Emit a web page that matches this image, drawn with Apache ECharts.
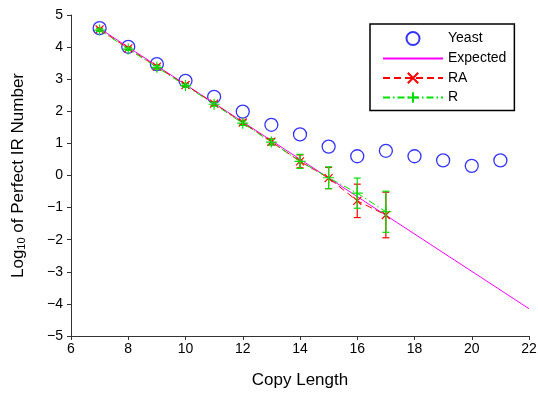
<!DOCTYPE html>
<html>
<head>
<meta charset="utf-8">
<script src="https://cdn.jsdelivr.net/npm/echarts@6/dist/echarts.min.js"></script>
<style>
  html, body { margin: 0; padding: 0; background: #fff; }
  #chart { width: 538px; height: 393px; }
</style>
</head>
<body>
<div id="chart"></div>
<script>
// Copy length on the x axis
const copyLengths = [7, 8, 9, 10, 11, 12, 13, 14, 15, 16, 17, 18, 19, 20, 21];
// Observed log10 counts of perfect inverted repeats in yeast
const yeastValues = [4.59, 4.01, 3.47, 2.95, 2.45, 1.99, 1.58, 1.28, 0.90, 0.60, 0.77, 0.60, 0.47, 0.30, 0.47];

// Expected line end points
const expectedX = [7, 22];
const expectedY = [4.58, -4.15];

// Randomised genomes: RA and R, with standard deviation
const simLengths = [7, 8, 9, 10, 11, 12, 13, 14, 15, 16, 17];
const raValues = [4.55, 3.96, 3.39, 2.82, 2.24, 1.65, 1.05, 0.44, -0.08, -0.79, -1.23];
const raErrors = [0.04, 0.04, 0.05, 0.05, 0.06, 0.07, 0.09, 0.20, 0.33, 0.52, 0.71];
const rValues = [4.53, 3.94, 3.37, 2.80, 2.22, 1.63, 1.04, 0.44, -0.07, -0.55, -1.13];
const rErrors = [0.04, 0.04, 0.05, 0.05, 0.06, 0.07, 0.09, 0.22, 0.34, 0.47, 0.64];

// Axis ticks
const xTicks = { min: 6, max: 22, interval: 2 };
const yTicks = { min: -5, max: 5, interval: 1 };

const FONT = '"Liberation Sans", Arial, Helvetica, sans-serif';
const pairs = (xs, ys) => xs.map((x, i) => [x, ys[i]]);
const triples = (xs, ys, es) => xs.map((x, i) => [x, ys[i], es[i]]);
const minus = v => String(v).replace('-', '\u2212');

function errorBars(color) {
  return function (params, api) {
    const x = api.value(0), y = api.value(1), e = api.value(2);
    const top = api.coord([x, y + e]);
    const bot = api.coord([x, y - e]);
    const half = 3.5;
    const style = { stroke: color, lineWidth: 1.2 };
    return {
      type: 'group',
      children: [
        { type: 'line', shape: { x1: top[0], y1: top[1], x2: bot[0], y2: bot[1] }, style },
        { type: 'line', shape: { x1: top[0] - half, y1: top[1], x2: top[0] + half, y2: top[1] }, style },
        { type: 'line', shape: { x1: bot[0] - half, y1: bot[1], x2: bot[0] + half, y2: bot[1] }, style }
      ]
    };
  };
}

const chart = echarts.init(document.getElementById('chart'));
chart.setOption({
  animation: false,
  backgroundColor: '#fff',
  textStyle: { fontFamily: FONT },
  grid: { left: 71, right: 9, top: 15, bottom: 57, containLabel: false, outerBoundsMode: 'none' },
  legend: {
    orient: 'vertical',
    left: 370, top: 24,
    padding: [7, 8, 6, 12],
    itemWidth: 60, itemHeight: 13, itemGap: 5.5,
    borderColor: '#000', borderWidth: 1.5,
    backgroundColor: '#fff',
    textStyle: { fontFamily: FONT, fontSize: 14, color: '#000' },
    data: [
      'Yeast',
      { name: 'Expected', itemStyle: { opacity: 0 } },
      'RA',
      'R'
    ]
  },
  xAxis: {
    type: 'value',
    min: xTicks.min, max: xTicks.max, interval: xTicks.interval,
    name: 'Copy Length', nameLocation: 'middle', nameGap: 36,
    nameTextStyle: { fontFamily: FONT, fontSize: 17, color: '#000' },
    axisLine: { onZero: false, lineStyle: { color: '#333', width: 1 } },
    axisTick: { inside: false, length: 4, lineStyle: { color: '#333' } },
    axisLabel: { fontFamily: FONT, fontSize: 14, color: '#000', margin: 6, formatter: minus },
    splitLine: { show: false }
  },
  yAxis: {
    type: 'value',
    min: yTicks.min, max: yTicks.max, interval: yTicks.interval,
    name: '{a|Log}{s|10}{a| of Perfect IR Number}',
    nameLocation: 'middle', nameGap: 44, nameRotate: 90,
    nameTextStyle: {
      rich: {
        a: { fontFamily: FONT, fontSize: 17, color: '#000', lineHeight: 22, verticalAlign: 'bottom' },
        s: { fontFamily: FONT, fontSize: 11, color: '#000', lineHeight: 10, verticalAlign: 'bottom' }
      }
    },
    axisLine: { onZero: false, lineStyle: { color: '#333', width: 1 } },
    axisTick: { inside: false, length: 4, lineStyle: { color: '#333' } },
    axisLabel: { fontFamily: FONT, fontSize: 14, color: '#000', margin: 8, formatter: minus },
    splitLine: { show: false }
  },
  series: [
    {
      name: 'Yeast', type: 'scatter', z: 2,
      symbol: 'circle', symbolSize: 13,
      itemStyle: { color: 'rgba(255,255,255,0)', borderColor: '#0000ff', borderWidth: 1.3 },
      data: pairs(copyLengths, yeastValues)
    },
    {
      name: 'Expected', type: 'line', z: 3,
      symbol: 'none',
      lineStyle: { color: '#ff00ff', width: 1 },
      itemStyle: { color: '#ff00ff' },
      data: pairs(expectedX, expectedY)
    },
    {
      name: 'RA-err', type: 'custom', z: 4,
      renderItem: errorBars('#ff0000'),
      encode: { x: 0, y: 1 },
      data: triples(simLengths, raValues, raErrors)
    },
    {
      name: 'RA', type: 'line', z: 5,
      symbol: 'path://M0,0L10,10M10,0L0,10', symbolSize: 8,
      itemStyle: { color: '#ff0000', borderColor: '#ff0000', borderWidth: 1.2 },
      lineStyle: { color: '#ff0000', width: 1, type: [7, 4] },
      data: pairs(simLengths, raValues)
    },
    {
      name: 'R-err', type: 'custom', z: 6,
      renderItem: errorBars('#00e000'),
      encode: { x: 0, y: 1 },
      data: triples(simLengths, rValues, rErrors)
    },
    {
      name: 'R', type: 'line', z: 7,
      symbol: 'path://M5,0L5,10M0,5L10,5', symbolSize: 11,
      itemStyle: { color: '#00e000', borderColor: '#00e000', borderWidth: 1.2 },
      lineStyle: { color: '#00e000', width: 1, type: [7, 3, 1.5, 3] },
      data: pairs(simLengths, rValues)
    }
  ]
});
</script>
</body>
</html>
